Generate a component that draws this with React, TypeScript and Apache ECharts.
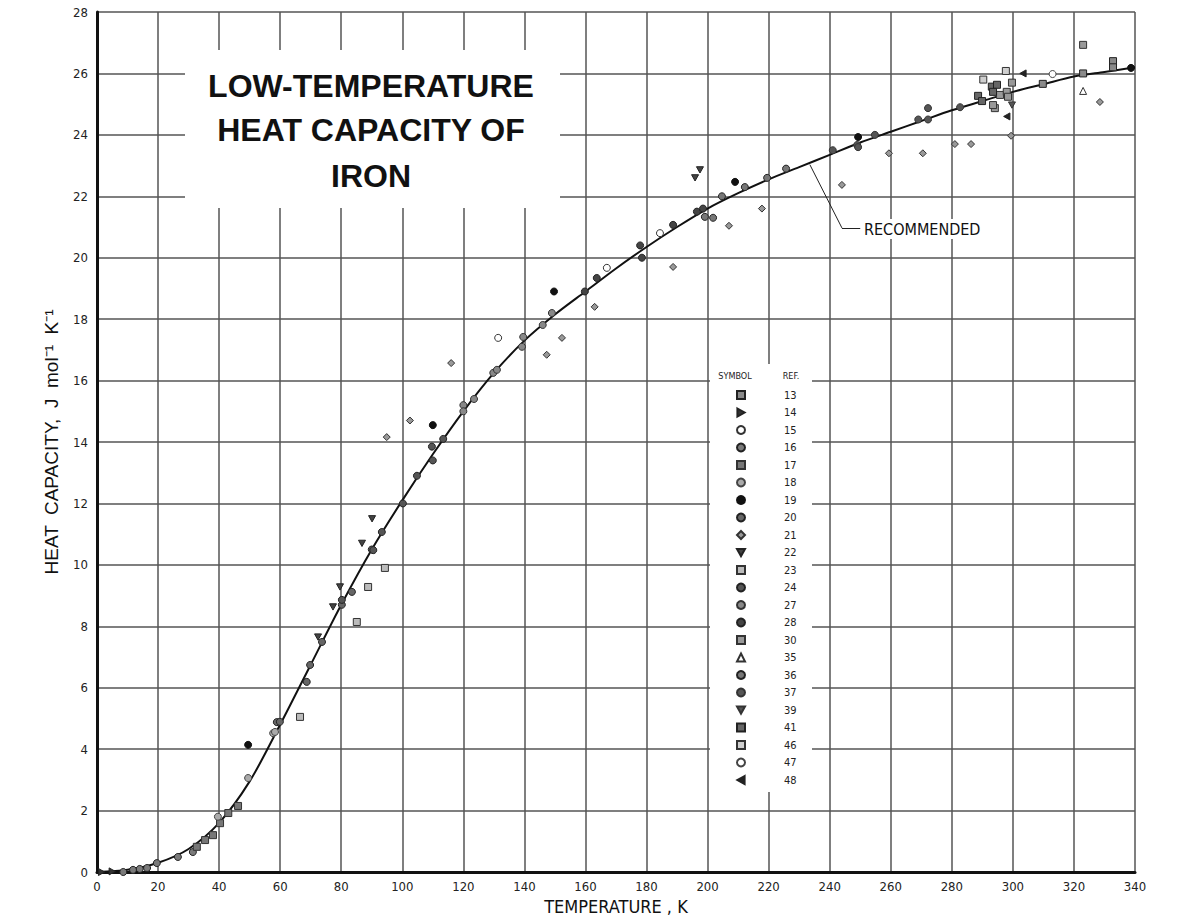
import React, { useEffect, useRef } from "react";
import * as echarts from "echarts";

// Recommended curve (temperature K, heat capacity J/mol/K)
const curveT = [0, 10, 20, 30, 40, 50, 60, 70, 80, 90, 100, 110, 120, 130, 140, 150, 160, 170, 180, 190, 200, 210, 220, 230, 240, 250, 260, 270, 280, 290, 300, 310, 320, 330, 340];
const curveC = [0, 0.07, 0.3, 0.75, 1.6, 2.95, 4.8, 6.75, 8.7, 10.5, 12.1, 13.6, 15.0, 16.25, 17.3, 18.15, 18.9, 19.65, 20.35, 21.0, 21.6, 22.1, 22.55, 22.95, 23.35, 23.75, 24.1, 24.45, 24.8, 25.1, 25.4, 25.65, 25.9, 26.05, 26.2];

// Experimental points by reference
const ref13: number[][] = [[309.8, 25.66], [323, 26.0], [332.8, 26.4], [332.8, 26.2]];
const ref14: number[][] = [[1.5, 0.0], [5, 0.02]];
const ref15: number[][] = [[131.4, 17.39], [167, 19.67], [184.4, 20.8]];
const ref16: number[][] = [[8.6, 0.0], [11.8, 0.07], [14, 0.1], [16.4, 0.13], [19.6, 0.29], [26.5, 0.49], [31.4, 0.65]];
const ref17: number[][] = [[32.7, 0.82], [35.4, 1.04], [38, 1.2], [40.3, 1.59], [43, 1.92], [46.2, 2.15]];
const ref18: number[][] = [[39.6, 1.8], [49.5, 3.06], [57.7, 4.52], [58.3, 4.56]];
const ref19: number[][] = [[49.5, 4.14], [110, 14.55], [149.7, 18.9], [209, 22.47], [249.3, 23.93], [338.7, 26.18]];
const ref20: number[][] = [[58.9, 4.88], [59.9, 4.89], [68.7, 6.19], [69.8, 6.74], [73.7, 7.49], [80.2, 8.7], [83.5, 9.12]];
const ref21: number[][] = [[94.9, 14.16], [102.5, 14.7], [116, 16.57], [147.3, 16.84], [152.3, 17.39], [163, 18.4], [188.7, 19.7], [207, 21.04], [217.8, 21.6], [244, 22.37], [259.4, 23.4], [270.5, 23.4], [281, 23.7], [286.3, 23.7], [299.4, 23.97], [328.5, 25.07]];
const ref22: number[][] = [[72.4, 7.65], [77.3, 8.63], [79.6, 9.28], [86.8, 10.7], [90.1, 11.5], [195.9, 22.6], [197.5, 22.86]];
const ref23: number[][] = [[66.5, 5.05], [85.1, 8.14], [88.8, 9.28], [94.3, 9.9]];
const ref24: number[][] = [[80.2, 8.86], [90, 10.5], [90.5, 10.48], [93.3, 11.07], [100.2, 12.0], [104.8, 12.9], [109.7, 13.85], [110, 13.4], [113.4, 14.1]];
const ref27: number[][] = [[120, 15.2], [120, 15.0], [123.5, 15.4], [129.8, 16.25], [131, 16.35], [139.2, 17.1], [139.6, 17.42], [146, 17.81], [149, 18.2]];
const ref28: number[][] = [[159.8, 18.9], [163.7, 19.34], [177.9, 20.4], [178.5, 20.0], [188.7, 21.07], [196.5, 21.5], [198.5, 21.6]];
const ref30: number[][] = [[295.8, 25.3], [294.1, 24.87], [293.5, 24.97], [298, 25.4], [298.4, 25.24], [299.7, 25.7], [323, 26.93]];
const ref35: number[][] = [[323, 25.43]];
const ref36: number[][] = [[199.1, 21.33], [201.8, 21.3], [204.7, 22.0], [212.2, 22.3], [219.5, 22.6], [225.7, 22.9]];
const ref37: number[][] = [[241, 23.5], [249, 23.67], [249.3, 23.6], [254.8, 24.0], [269, 24.5], [272.2, 24.5], [272.2, 24.87], [282.7, 24.9]];
const ref39: number[][] = [[299.7, 24.97]];
const ref41: number[][] = [[288.6, 25.27], [289.9, 25.1], [293.1, 25.57], [294.8, 25.63], [293.5, 25.4]];
const ref46: number[][] = [[290.3, 25.8], [297.7, 26.08]];
const ref47: number[][] = [[313, 25.98]];
const ref48: number[][] = [[303.3, 26.0], [298, 24.6]];

const refNames = ["13", "14", "15", "16", "17", "18", "19", "20", "21", "22", "23", "24", "27", "28", "30", "35", "36", "37", "39", "41", "46", "47", "48"];
const refData = [ref13, ref14, ref15, ref16, ref17, ref18, ref19, ref20, ref21, ref22, ref23, ref24, ref27, ref28, ref30, ref35, ref36, ref37, ref39, ref41, ref46, ref47, ref48];

// Leader line of the "RECOMMENDED" annotation (data coordinates)
const leaderPts: number[][] = [[233.5, 23.03], [244, 20.97], [250, 20.97]];

const titleLines = ["LOW-TEMPERATURE", "HEAT CAPACITY OF", "IRON"];

// Triangle marker outlines
const TRI_DOWN = "path://M0,0 L10,0 L5,9 Z";
const TRI_RIGHT = "path://M0,0 L9,5 L0,10 Z";
const TRI_LEFT = "path://M9,0 L0,5 L9,10 Z";

// Marker styles (symbol, fill, border)
const styles: Record<string, { s: string; f: string; b: string }> = {
  "13": { s: "rect", f: "#8a8a8a", b: "#222" },
  "14": { s: TRI_RIGHT, f: "#333", b: "#222" },
  "15": { s: "circle", f: "#ffffff", b: "#333" },
  "16": { s: "circle", f: "#7a7a7a", b: "#222" },
  "17": { s: "rect", f: "#777", b: "#333" },
  "18": { s: "circle", f: "#aaa", b: "#444" },
  "19": { s: "circle", f: "#111", b: "#111" },
  "20": { s: "circle", f: "#666", b: "#222" },
  "21": { s: "diamond", f: "#999", b: "#333" },
  "22": { s: TRI_DOWN, f: "#444", b: "#222" },
  "23": { s: "rect", f: "#bbb", b: "#333" },
  "24": { s: "circle", f: "#555", b: "#222" },
  "27": { s: "circle", f: "#888", b: "#333" },
  "28": { s: "circle", f: "#444", b: "#222" },
  "30": { s: "rect", f: "#999", b: "#333" },
  "35": { s: "triangle", f: "#ffffff", b: "#333" },
  "36": { s: "circle", f: "#777", b: "#222" },
  "37": { s: "circle", f: "#555", b: "#333" },
  "39": { s: TRI_DOWN, f: "#555", b: "#333" },
  "41": { s: "rect", f: "#666", b: "#222" },
  "46": { s: "rect", f: "#cfcfcf", b: "#333" },
  "47": { s: "circle", f: "#ffffff", b: "#444" },
  "48": { s: TRI_LEFT, f: "#222", b: "#222" },
};

const FONT = "'Liberation Sans', Arial, Helvetica, sans-serif";
const NARROW = "'Liberation Sans Narrow', 'DejaVu Sans Condensed', 'Liberation Sans', sans-serif";

export default function App() {
  const ref = useRef<HTMLDivElement>(null);
  useEffect(() => {
    if (!ref.current) return;
    const chart = echarts.init(ref.current, undefined, { renderer: "svg" });

    const scatterSeries = refNames.map((name, i) => {
      const st = styles[name];
      return {
        name,
        type: "scatter",
        data: refData[i],
        symbol: st.s,
        symbolSize: 7,
        symbolKeepAspect: true,
        itemStyle: { color: st.f, borderColor: st.b, borderWidth: 1, opacity: 1 },
        z: 3,
        silent: true,
      };
    });

    const option: any = {
      animation: false,
      backgroundColor: "#ffffff",
      grid: { left: 97, top: 12, width: 1038, height: 860 },
      xAxis: {
        type: "value",
        min: 0,
        max: 340,
        interval: 20,
        name: "TEMPERATURE , K",
        nameLocation: "middle",
        nameGap: 25,
        nameTextStyle: { fontFamily: NARROW, fontSize: 18, color: "#111" },
        axisLine: { show: true, onZero: false, lineStyle: { color: "#111", width: 3 } },
        axisTick: { show: false },
        axisLabel: { margin: 8, fontFamily: NARROW, fontSize: 13, color: "#222" },
        splitLine: { show: true, lineStyle: { color: "#555", width: 1.5 } },
      },
      yAxis: {
        type: "value",
        min: 0,
        max: 28,
        interval: 2,
        name: "HEAT  CAPACITY,  J  mol⁻¹  K⁻¹",
        nameLocation: "middle",
        nameGap: 36,
        nameRotate: 90,
        nameTextStyle: { fontFamily: FONT, fontSize: 19, color: "#111" },
        axisLine: { show: true, onZero: false, lineStyle: { color: "#111", width: 3 } },
        axisTick: { show: false },
        axisLabel: { margin: 9, fontFamily: NARROW, fontSize: 13, color: "#222" },
        splitLine: { show: true, lineStyle: { color: "#555", width: 1.5 } },
      },
      legend: {
        data: refNames,
        orient: "vertical",
        left: 736,
        top: 389,
        padding: 0,
        itemWidth: 8,
        itemHeight: 8,
        itemGap: 5.5,
        symbolKeepAspect: true,
        selectedMode: false,
        textStyle: { fontFamily: NARROW, fontSize: 11, lineHeight: 12, color: "#222", padding: [0, 0, 0, 34] },
        z: 6,
      },
      graphic: [
        { type: "rect", z: 3, shape: { x: 185, y: 50, width: 375, height: 158 }, style: { fill: "#ffffff" } },
        ...titleLines.map((t, i) => ({
          type: "text",
          z: 5,
          x: 371,
          y: [86, 130, 176][i],
          style: { text: t, fontFamily: FONT, fontSize: 32, fontWeight: "bold", fill: "#111", align: "center", verticalAlign: "middle" },
        })),
        { type: "rect", z: 3, shape: { x: 710, y: 364, width: 102, height: 428 }, style: { fill: "#ffffff" } },
        { type: "text", z: 5, x: 735, y: 376, style: { text: "SYMBOL", fontFamily: NARROW, fontSize: 9, fill: "#222", align: "center", verticalAlign: "middle" } },
        { type: "text", z: 5, x: 791, y: 376, style: { text: "REF.", fontFamily: NARROW, fontSize: 9, fill: "#222", align: "center", verticalAlign: "middle" } },
        { type: "rect", z: 3, shape: { x: 861, y: 219, width: 130, height: 20 }, style: { fill: "#ffffff" } },
        { type: "text", z: 5, x: 864, y: 229, style: { text: "RECOMMENDED", fontFamily: NARROW, fontSize: 16, fill: "#111", align: "left", verticalAlign: "middle" } },
      ],
      series: [
        {
          name: "RECOMMENDED",
          type: "line",
          data: curveT.map((t, i) => [t, curveC[i]]),
          smooth: 0.3,
          showSymbol: false,
          symbol: "none",
          lineStyle: { color: "#111", width: 2 },
          z: 2,
          silent: true,
          markLine: {
            silent: true,
            symbol: ["none", "none"],
            label: { show: false },
            lineStyle: { color: "#222", width: 1, type: "solid" },
            data: [
              [{ coord: leaderPts[0] }, { coord: leaderPts[1] }],
              [{ coord: leaderPts[1] }, { coord: leaderPts[2] }],
            ],
          },
        },
        ...scatterSeries,
      ],
    };
    chart.setOption(option);
    return () => chart.dispose();
  }, []);
  return (
    <div
      ref={ref}
      style={{ position: "fixed", left: 0, top: 0, width: 1194, height: 921, background: "#fff" }}
    />
  );
}
